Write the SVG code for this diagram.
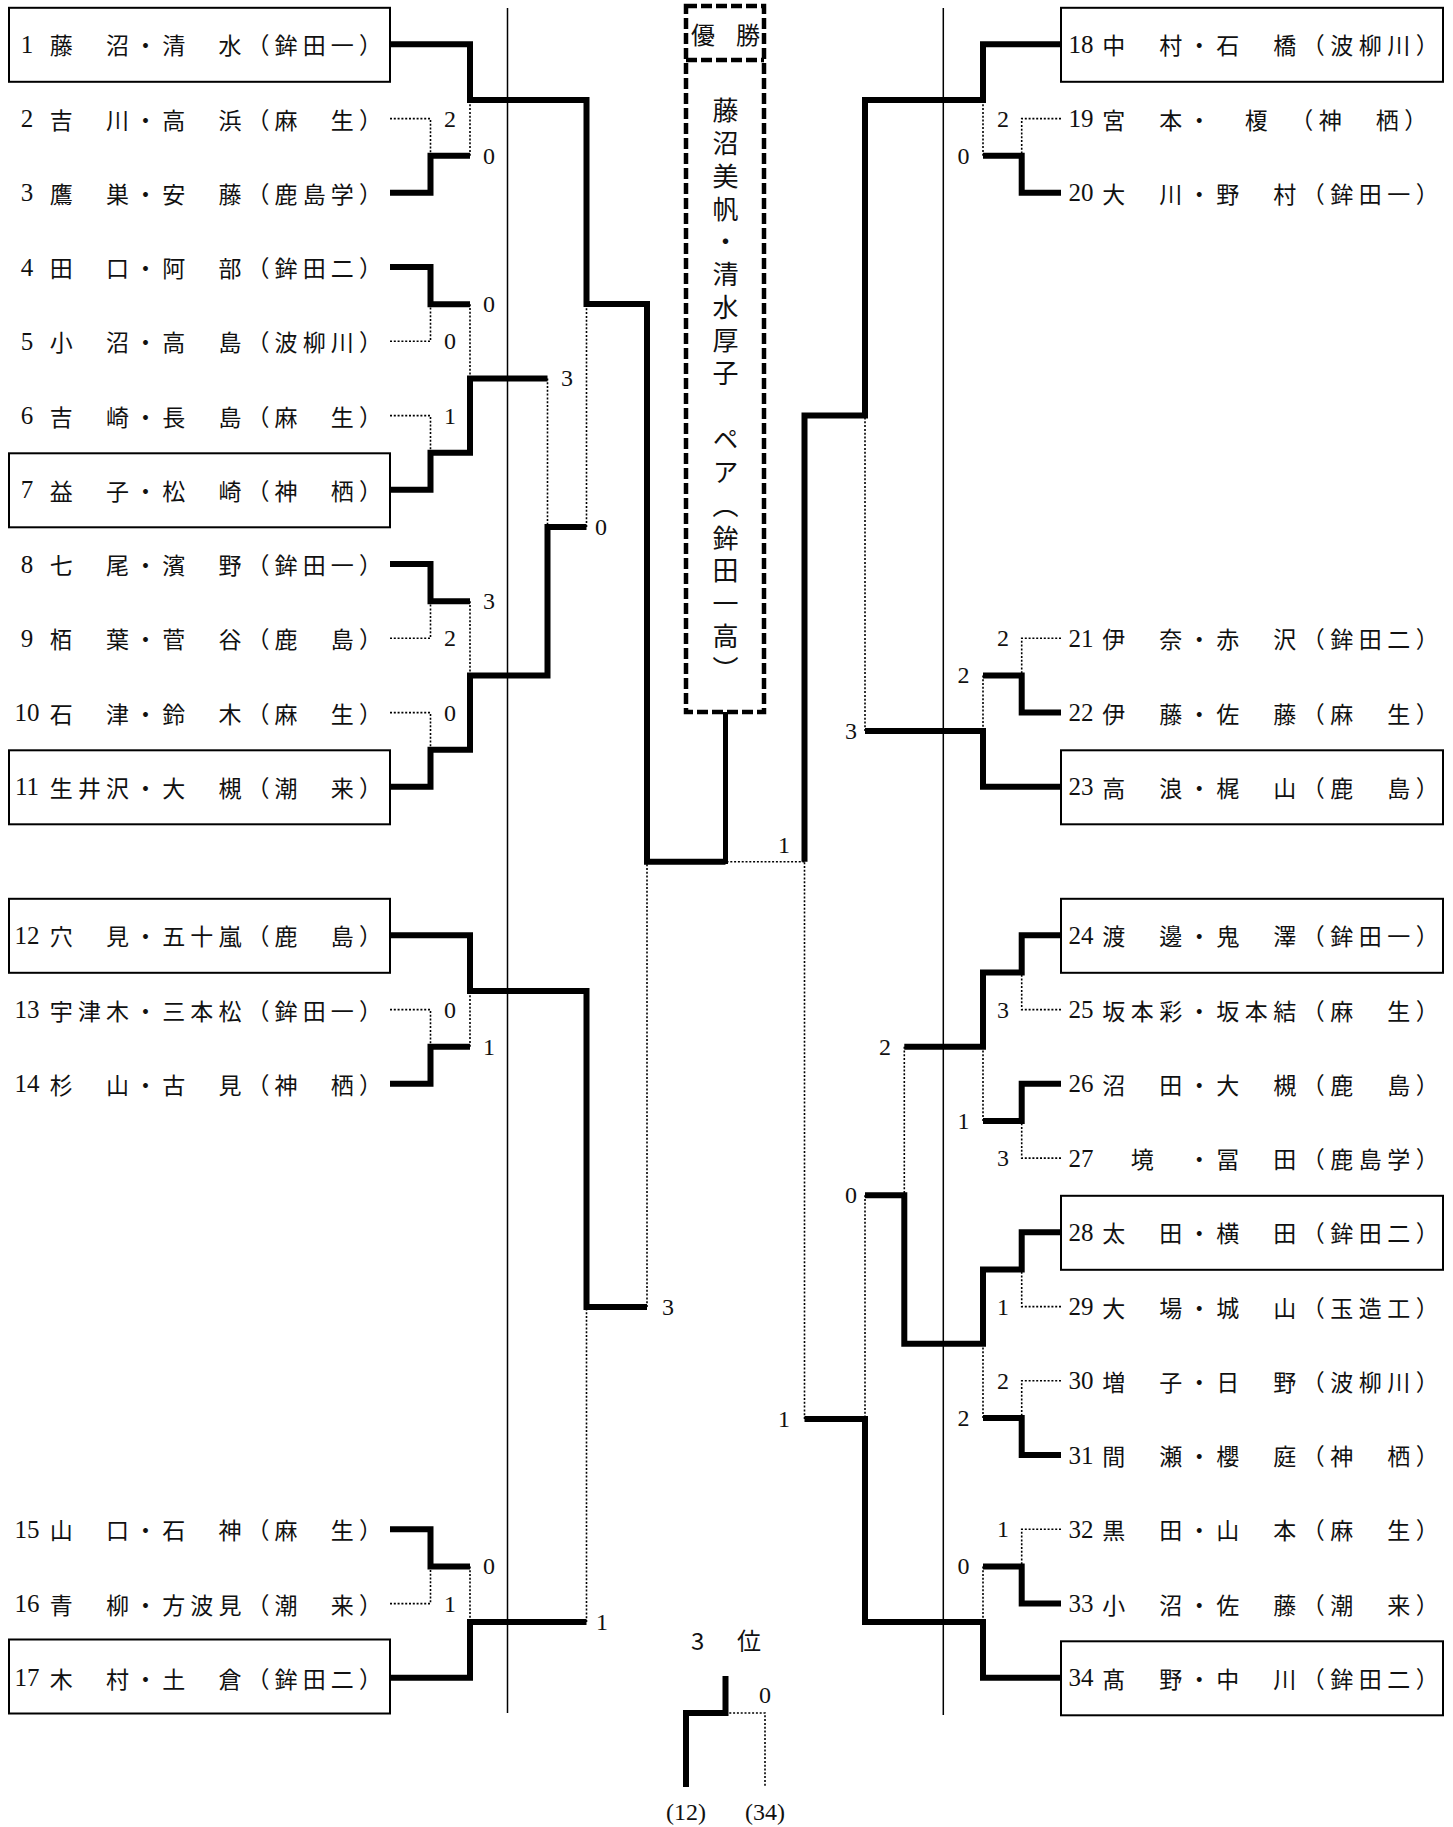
<svg xmlns="http://www.w3.org/2000/svg" width="1453" height="1827" viewBox="0 0 1453 1827">
<style>
.bg{fill:#fff}
.box{fill:none;stroke:#000;stroke-width:2}
.w{fill:none;stroke:#000;stroke-width:6;stroke-linejoin:miter;stroke-linecap:butt}
.l{fill:none;stroke:#000;stroke-width:1.6;stroke-dasharray:2 1.8}
.thin{fill:none;stroke:#000;stroke-width:1.5}
.ch{fill:none;stroke:#000;stroke-width:4.5;stroke-dasharray:11 4}
.nmL{font-family:"Noto Sans CJK JP","Noto Sans CJK SC",sans-serif;font-size:23px;letter-spacing:5.1px;dominant-baseline:central;fill:#111}
.nmR{font-family:"Noto Sans CJK JP","Noto Sans CJK SC",sans-serif;font-size:23px;letter-spacing:5.5px;dominant-baseline:central;fill:#111}
.no{font-family:"Liberation Serif",serif;font-size:25px;text-anchor:middle;dominant-baseline:central;fill:#111}
.sc{font-family:"Liberation Serif",serif;font-size:24px;text-anchor:middle;dominant-baseline:central;fill:#111}
.v{font-family:"Noto Sans CJK JP","Noto Sans CJK SC",sans-serif;font-size:26px;letter-spacing:6.9px;writing-mode:vertical-rl;fill:#111}
.t{font-family:"Noto Sans CJK JP","Noto Sans CJK SC",sans-serif;font-size:24px;dominant-baseline:central;fill:#111}
</style>
<rect class="bg" x="0" y="0" width="1453" height="1827"/>

<g id="guides">
<line class="thin" x1="507.5" y1="8" x2="507.5" y2="1713"/>
<line class="thin" x1="943.3" y1="8" x2="943.3" y2="1715"/>
</g>

<g id="connectors">
<path class="w" d="M390,44.3 H470 V100 H586.5 V304 H647 V861.7 H725.5"/>
<path class="l" d="M390,118.6 H430.5 V155.7"/>
<path class="w" d="M390,192.8 H430.5 V155.7 H470"/>
<path class="l" d="M470,155.7 V100"/>
<path class="w" d="M390,267.1 H430.5 V304.2 H470"/>
<path class="l" d="M470,304.2 V378.4"/>
<path class="l" d="M390,341.3 H430.5 V304.2"/>
<path class="l" d="M390,415.6 H430.5 V452.7"/>
<path class="w" d="M390,489.8 H430.5 V452.7 H470 V378.4 H547.5"/>
<path class="l" d="M547.5,378.4 V526.9"/>
<path class="w" d="M390,564.1 H430.5 V601.2 H470"/>
<path class="l" d="M470,601.2 V675.4"/>
<path class="l" d="M390,638.3 H430.5 V601.2"/>
<path class="l" d="M390,712.6 H430.5 V749.7"/>
<path class="w" d="M390,786.8 H430.5 V749.7 H470 V675.4 H547.5 V526.9 H586.5"/>
<path class="l" d="M586.5,526.9 V304"/>
<path class="w" d="M390,935.3 H470 V991 H586.5 V1307 H647"/>
<path class="l" d="M647,1307 V861.7"/>
<path class="l" d="M390,1009.6 H430.5 V1046.7"/>
<path class="w" d="M390,1083.8 H430.5 V1046.7 H470"/>
<path class="l" d="M470,1046.7 V991"/>
<path class="w" d="M390,1529.3 H430.5 V1566.4 H470"/>
<path class="l" d="M470,1566.4 V1622"/>
<path class="l" d="M390,1603.6 H430.5 V1566.4"/>
<path class="w" d="M390,1677.8 H470 V1622 H586.5"/>
<path class="l" d="M586.5,1622 V1307"/>
<path class="w" style="stroke-width:5" d="M725.5,712 V864"/>
<path class="w" d="M1061,44.3 H983 V100 H865 V415.5 H804.5 V861.7"/>
<path class="l" d="M804.5,861.7 H725.5"/>
<path class="l" d="M1061,118.6 H1021.7 V155.7"/>
<path class="w" d="M1061,192.8 H1021.7 V155.7 H983"/>
<path class="l" d="M983,155.7 V100"/>
<path class="l" d="M1061,638.3 H1021.7 V675.4"/>
<path class="w" d="M1061,712.6 H1021.7 V675.4 H983"/>
<path class="l" d="M983,675.4 V731.1"/>
<path class="w" d="M1061,786.8 H983 V731.1 H865"/>
<path class="l" d="M865,731.1 V415.5"/>
<path class="w" d="M1061,935.3 H1021.7 V972.4 H983 V1046.7 H904.3"/>
<path class="l" d="M904.3,1046.7 V1195.2"/>
<path class="l" d="M1061,1009.6 H1021.7 V972.4"/>
<path class="w" d="M1061,1083.8 H1021.7 V1120.9 H983"/>
<path class="l" d="M983,1120.9 V1046.7"/>
<path class="l" d="M1061,1158.1 H1021.7 V1120.9"/>
<path class="w" d="M1061,1232.3 H1021.7 V1269.4 H983 V1343.7 H904.3 V1195.2 H865"/>
<path class="l" d="M865,1195.2 V1419"/>
<path class="l" d="M1061,1306.6 H1021.7 V1269.4"/>
<path class="l" d="M1061,1380.8 H1021.7 V1417.9"/>
<path class="w" d="M1061,1455.1 H1021.7 V1417.9 H983"/>
<path class="l" d="M983,1417.9 V1343.7"/>
<path class="l" d="M1061,1529.3 H1021.7 V1566.4"/>
<path class="w" d="M1061,1603.6 H1021.7 V1566.4 H983"/>
<path class="l" d="M983,1566.4 V1622.1"/>
<path class="w" d="M1061,1677.8 H983 V1622.1 H865 V1419 H804.5"/>
<path class="l" d="M804.5,1419 V861.7"/>
<path class="w" d="M725.5,1676 V1713 H686 V1787"/>
<path class="l" d="M725.5,1713 H765 V1787"/>
</g>

<g id="champion">
<rect class="ch" x="686" y="6" width="78" height="706"/>
<line class="ch" x1="686" y1="60" x2="764" y2="60"/>
<text class="t" x="691" y="33" style="letter-spacing:21px">優勝</text>
<text class="v" x="725.5" y="97">藤沼美帆・清水厚子　ペア（鉾田一高）</text>
</g>

<g id="scores">
<text class="sc" x="450" y="118.6">2</text>
<text class="sc" x="489" y="155.7">0</text>
<text class="sc" x="489" y="304.2">0</text>
<text class="sc" x="450" y="341.3">0</text>
<text class="sc" x="450" y="415.6">1</text>
<text class="sc" x="567" y="378.4">3</text>
<text class="sc" x="601" y="526.9">0</text>
<text class="sc" x="489" y="601.2">3</text>
<text class="sc" x="450" y="638.3">2</text>
<text class="sc" x="450" y="712.6">0</text>
<text class="sc" x="450" y="1009.6">0</text>
<text class="sc" x="489" y="1046.7">1</text>
<text class="sc" x="668" y="1307">3</text>
<text class="sc" x="489" y="1566.4">0</text>
<text class="sc" x="450" y="1603.6">1</text>
<text class="sc" x="602" y="1622">1</text>
<text class="sc" x="784" y="845">1</text>
<text class="sc" x="1003" y="118.6">2</text>
<text class="sc" x="963.5" y="155.7">0</text>
<text class="sc" x="1003" y="638.3">2</text>
<text class="sc" x="963.5" y="675.4">2</text>
<text class="sc" x="851" y="731.1">3</text>
<text class="sc" x="1003" y="1009.6">3</text>
<text class="sc" x="885" y="1046.7">2</text>
<text class="sc" x="963.5" y="1120.9">1</text>
<text class="sc" x="1003" y="1158.1">3</text>
<text class="sc" x="851" y="1195.2">0</text>
<text class="sc" x="1003" y="1306.6">1</text>
<text class="sc" x="1003" y="1380.8">2</text>
<text class="sc" x="963.5" y="1417.9">2</text>
<text class="sc" x="784" y="1419">1</text>
<text class="sc" x="1003" y="1529.3">1</text>
<text class="sc" x="963.5" y="1566.4">0</text>
</g>

<g id="third-place">
<text class="t" x="691" y="1639">3</text>
<text class="t" x="737" y="1639">位</text>
<text class="sc" x="765" y="1695">0</text>
<text class="sc" x="686" y="1812">(12)</text>
<text class="sc" x="765" y="1812">(34)</text>
</g>

<g id="p1"><rect class="box" x="9" y="7.8" width="381" height="74"/><text class="no" x="27" y="44.3">1</text><text class="nmL" x="49.8" y="44.3">藤　沼・清　水（鉾田一）</text></g>
<g id="p2"><text class="no" x="27" y="118.6">2</text><text class="nmL" x="49.8" y="118.6">吉　川・高　浜（麻　生）</text></g>
<g id="p3"><text class="no" x="27" y="192.8">3</text><text class="nmL" x="49.8" y="192.8">鷹　巣・安　藤（鹿島学）</text></g>
<g id="p4"><text class="no" x="27" y="267.1">4</text><text class="nmL" x="49.8" y="267.1">田　口・阿　部（鉾田二）</text></g>
<g id="p5"><text class="no" x="27" y="341.3">5</text><text class="nmL" x="49.8" y="341.3">小　沼・高　島（波柳川）</text></g>
<g id="p6"><text class="no" x="27" y="415.6">6</text><text class="nmL" x="49.8" y="415.6">吉　崎・長　島（麻　生）</text></g>
<g id="p7"><rect class="box" x="9" y="453.3" width="381" height="74"/><text class="no" x="27" y="489.8">7</text><text class="nmL" x="49.8" y="489.8">益　子・松　崎（神　栖）</text></g>
<g id="p8"><text class="no" x="27" y="564.1">8</text><text class="nmL" x="49.8" y="564.1">七　尾・濱　野（鉾田一）</text></g>
<g id="p9"><text class="no" x="27" y="638.3">9</text><text class="nmL" x="49.8" y="638.3">栢　葉・菅　谷（鹿　島）</text></g>
<g id="p10"><text class="no" x="27" y="712.6">10</text><text class="nmL" x="49.8" y="712.6">石　津・鈴　木（麻　生）</text></g>
<g id="p11"><rect class="box" x="9" y="750.3" width="381" height="74"/><text class="no" x="27" y="786.8">11</text><text class="nmL" x="49.8" y="786.8">生井沢・大　槻（潮　来）</text></g>
<g id="p12"><rect class="box" x="9" y="898.8" width="381" height="74"/><text class="no" x="27" y="935.3">12</text><text class="nmL" x="49.8" y="935.3">穴　見・五十嵐（鹿　島）</text></g>
<g id="p13"><text class="no" x="27" y="1009.6">13</text><text class="nmL" x="49.8" y="1009.6">宇津木・三本松（鉾田一）</text></g>
<g id="p14"><text class="no" x="27" y="1083.8">14</text><text class="nmL" x="49.8" y="1083.8">杉　山・古　見（神　栖）</text></g>
<g id="p15"><text class="no" x="27" y="1529.3">15</text><text class="nmL" x="49.8" y="1529.3">山　口・石　神（麻　生）</text></g>
<g id="p16"><text class="no" x="27" y="1603.6">16</text><text class="nmL" x="49.8" y="1603.6">青　柳・方波見（潮　来）</text></g>
<g id="p17"><rect class="box" x="9" y="1639.5" width="381" height="74"/><text class="no" x="27" y="1677.8">17</text><text class="nmL" x="49.8" y="1677.8">木　村・土　倉（鉾田二）</text></g>

<g id="p18"><rect class="box" x="1061" y="7.8" width="382" height="74"/><text class="no" x="1081" y="44.3">18</text><text class="nmR" x="1102.2" y="44.3">中　村・石　橋（波柳川）</text></g>
<g id="p19"><text class="no" x="1081" y="118.6">19</text><text class="nmR" x="1102.2" y="118.6">宮　本・　榎　（神　栖）</text></g>
<g id="p20"><text class="no" x="1081" y="192.8">20</text><text class="nmR" x="1102.2" y="192.8">大　川・野　村（鉾田一）</text></g>
<g id="p21"><text class="no" x="1081" y="638.3">21</text><text class="nmR" x="1102.2" y="638.3">伊　奈・赤　沢（鉾田二）</text></g>
<g id="p22"><text class="no" x="1081" y="712.6">22</text><text class="nmR" x="1102.2" y="712.6">伊　藤・佐　藤（麻　生）</text></g>
<g id="p23"><rect class="box" x="1061" y="750.3" width="382" height="74"/><text class="no" x="1081" y="786.8">23</text><text class="nmR" x="1102.2" y="786.8">高　浪・梶　山（鹿　島）</text></g>
<g id="p24"><rect class="box" x="1061" y="898.8" width="382" height="74"/><text class="no" x="1081" y="935.3">24</text><text class="nmR" x="1102.2" y="935.3">渡　邊・鬼　澤（鉾田一）</text></g>
<g id="p25"><text class="no" x="1081" y="1009.6">25</text><text class="nmR" x="1102.2" y="1009.6">坂本彩・坂本結（麻　生）</text></g>
<g id="p26"><text class="no" x="1081" y="1083.8">26</text><text class="nmR" x="1102.2" y="1083.8">沼　田・大　槻（鹿　島）</text></g>
<g id="p27"><text class="no" x="1081" y="1158.1">27</text><text class="nmR" x="1102.2" y="1158.1">　境　・冨　田（鹿島学）</text></g>
<g id="p28"><rect class="box" x="1061" y="1195.8" width="382" height="74"/><text class="no" x="1081" y="1232.3">28</text><text class="nmR" x="1102.2" y="1232.3">太　田・横　田（鉾田二）</text></g>
<g id="p29"><text class="no" x="1081" y="1306.6">29</text><text class="nmR" x="1102.2" y="1306.6">大　場・城　山（玉造工）</text></g>
<g id="p30"><text class="no" x="1081" y="1380.8">30</text><text class="nmR" x="1102.2" y="1380.8">増　子・日　野（波柳川）</text></g>
<g id="p31"><text class="no" x="1081" y="1455.1">31</text><text class="nmR" x="1102.2" y="1455.1">間　瀬・櫻　庭（神　栖）</text></g>
<g id="p32"><text class="no" x="1081" y="1529.3">32</text><text class="nmR" x="1102.2" y="1529.3">黒　田・山　本（麻　生）</text></g>
<g id="p33"><text class="no" x="1081" y="1603.6">33</text><text class="nmR" x="1102.2" y="1603.6">小　沼・佐　藤（潮　来）</text></g>
<g id="p34"><rect class="box" x="1061" y="1641.3" width="382" height="74"/><text class="no" x="1081" y="1677.8">34</text><text class="nmR" x="1102.2" y="1677.8">髙　野・中　川（鉾田二）</text></g>
</svg>
